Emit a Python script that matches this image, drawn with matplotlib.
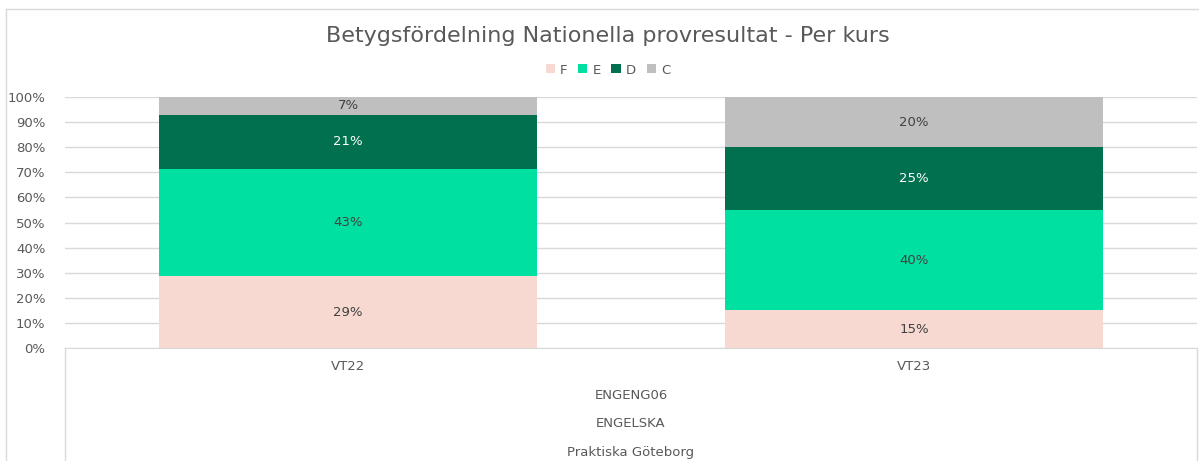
import numpy as np
import matplotlib.pyplot as plt
from matplotlib.lines import Line2D

terms = ['VT22', 'VT23']
grades = ['F', 'E', 'D', 'C']
F = [28.6, 15.0]
E = [42.9, 40.0]
D = [21.4, 25.0]
C = [7.1, 20.0]
levels = ['ENGENG06', 'ENGELSKA', 'Praktiska Göteborg']

colors = ['#F7D9D1', '#00E0A1', '#00704E', '#BFBFBF']
label_colors = ['#404040', '#404040', 'white', '#404040']
txt = '#595959'

plt.rcParams['font.family'] = ['DejaVu Sans']

W, H = 1199, 461
fig = plt.figure(figsize=(W / 100, H / 100), dpi=100)

# outer chart frame (left and top only visible)
fig.add_artist(Line2D([6 / W, 6 / W], [0, 1 - 9 / H], color='#D9D9D9', lw=1))
fig.add_artist(Line2D([6 / W, 1], [1 - 9 / H, 1 - 9 / H], color='#D9D9D9', lw=1))

x0, x1 = 65 / W, 1197 / W
y0, y1 = 1 - 348 / H, 1 - 97 / H
ax = fig.add_axes([x0, y0, x1 - x0, y1 - y0])

x = np.arange(len(terms))
bottom = np.zeros(len(terms))
for vals, col, lc, g in zip([F, E, D, C], colors, label_colors, grades):
    vals = np.array(vals)
    ax.bar(x, vals, width=0.667, bottom=bottom, color=col, label=g, zorder=2)
    for xi, v, b in zip(x, vals, bottom):
        ax.text(xi, b + v / 2, f'{v:.0f}%', ha='center', va='center',
                color=lc, fontsize=9.5, zorder=3)
    bottom += vals

ax.set_xlim(-0.5, 1.5)
ax.set_ylim(0, 100)
ax.set_yticks(np.arange(0, 101, 10))
ax.set_yticklabels([f'{t}%' for t in range(0, 101, 10)])
ax.tick_params(axis='y', length=0, labelsize=9.5, labelcolor=txt, pad=14)
ax.set_xticks([])
ax.grid(axis='y', color='#D9D9D9', lw=1, zorder=0)
for s in ['top', 'right', 'left']:
    ax.spines[s].set_visible(False)
ax.spines['bottom'].set_color('#D9D9D9')

# multi-level category axis
for xp in [x0, x1]:
    fig.add_artist(Line2D([xp, xp], [0, y0], color='#D9D9D9', lw=1))
for xi, t in zip(x, terms):
    fig.text(x0 + (x1 - x0) * (xi + 0.5) / 2, 1 - 367 / H, t, fontsize=9.5,
             color=txt, ha='center', va='center')
for yy, lab in zip([395, 423, 452], levels):
    fig.text((x0 + x1) / 2, 1 - yy / H, lab, fontsize=9.5, color=txt,
             ha='center', va='center')

fig.text(608 / W, 1 - 36 / H, 'Betygsfördelning Nationella provresultat - Per kurs',
         fontsize=16, color=txt, ha='center', va='center')
fig.legend(loc='center', bbox_to_anchor=(608 / W, 1 - 70 / H), ncol=4,
           frameon=False, fontsize=9.5, labelcolor=txt, handlelength=0.7,
           handleheight=0.7, handletextpad=0.4, columnspacing=0.8)

fig.savefig('out.png', dpi=100)
